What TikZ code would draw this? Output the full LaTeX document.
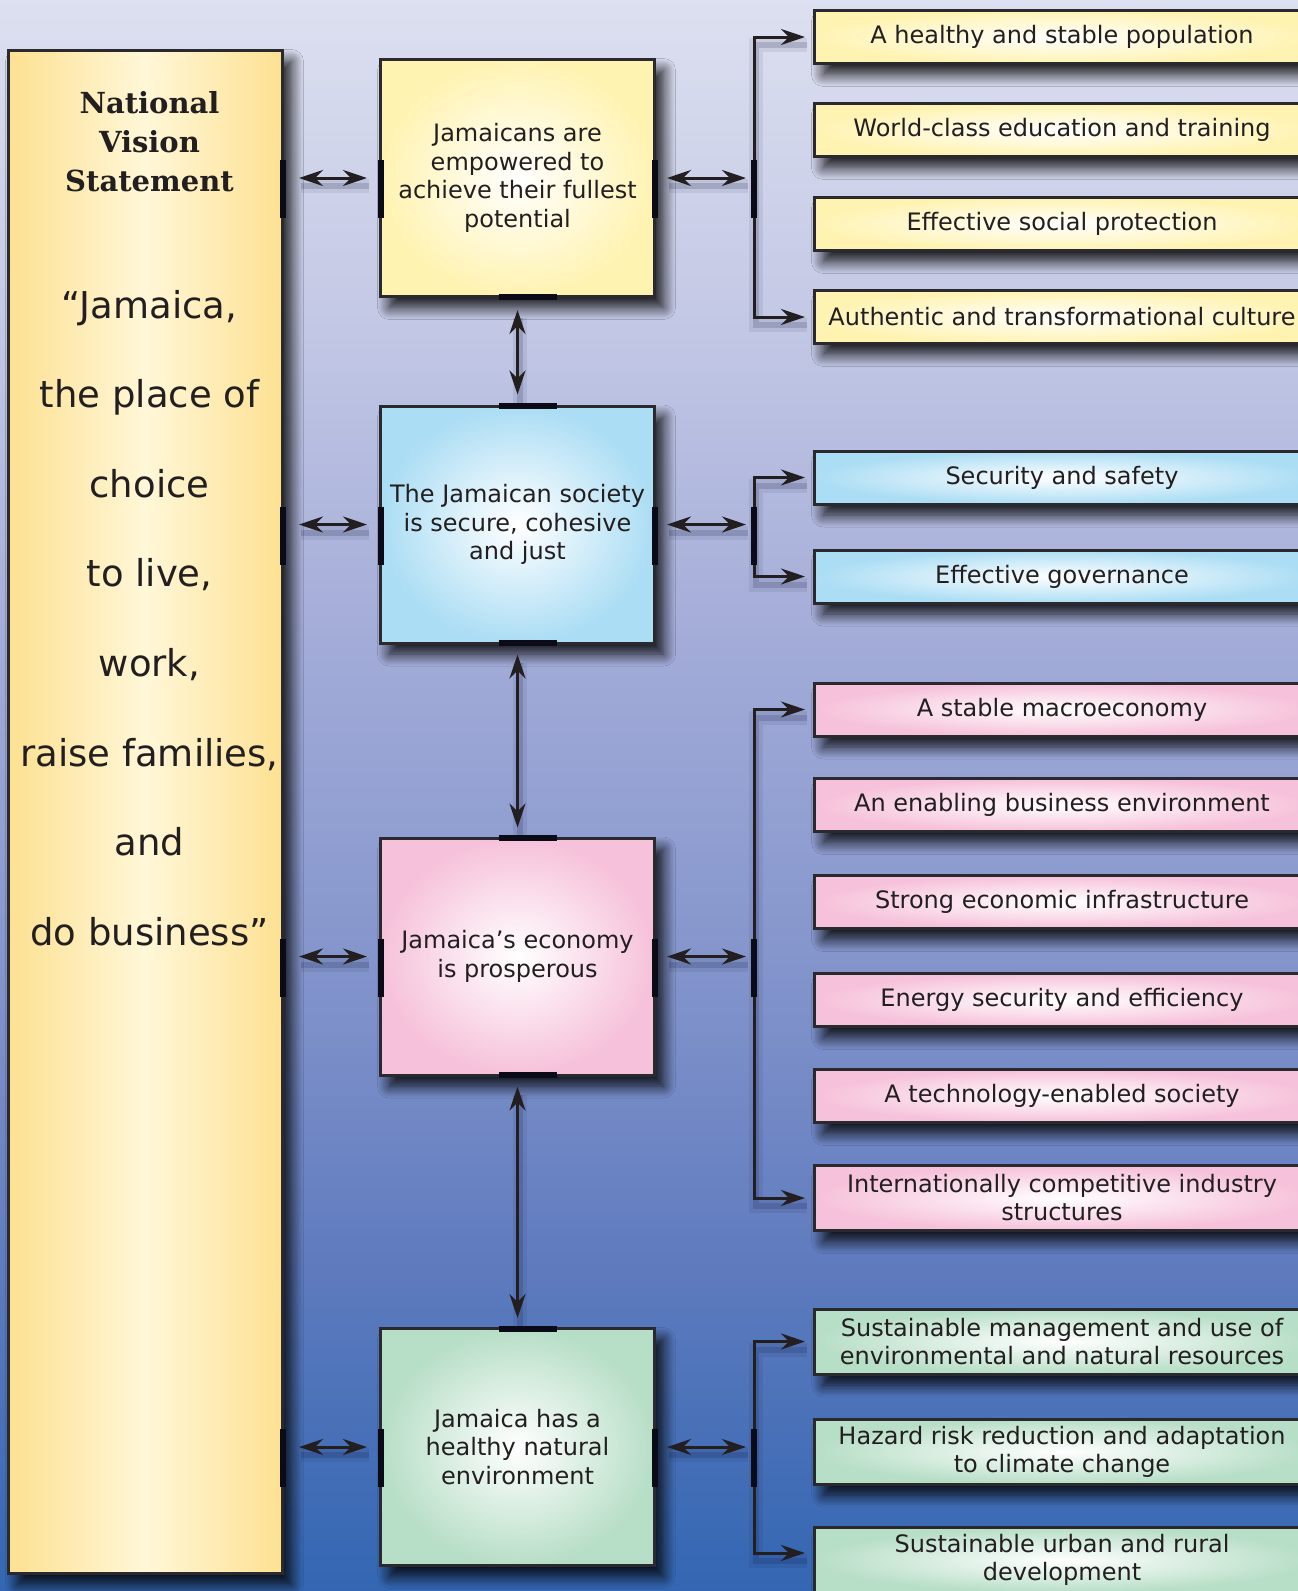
\documentclass[tikz,border=0pt]{standalone}
\usepackage{fontspec}
\setmainfont{DejaVu Sans}
\newfontfamily\headfont{DejaVu Serif}
\usetikzlibrary{arrows.meta,shadows.blur}

\definecolor{ink}{HTML}{231F20}
\definecolor{edge}{HTML}{2A2A2E}
\definecolor{tabc}{HTML}{0B0B18}
\definecolor{bg0}{HTML}{DDE0F0}
\definecolor{bg1}{HTML}{C3C8E5}
\definecolor{bg2}{HTML}{A3ACD8}
\definecolor{bg3}{HTML}{8495CC}
\definecolor{bg4}{HTML}{627DBF}
\definecolor{bg5}{HTML}{3366B2}
\definecolor{goldE}{HTML}{FDE192}
\definecolor{goldC}{HTML}{FFF7D8}
\definecolor{yelO}{HTML}{FFF3B2}
\definecolor{bluO}{HTML}{ABDDF4}
\definecolor{pnkO}{HTML}{F6C1DA}
\definecolor{grnO}{HTML}{B7DEC6}
\definecolor{shd}{HTML}{10163A}

\tikzset{
  Hd/.tip={Stealth[length=24pt,width=16pt,inset=8pt]},
  panel/.style={draw=edge, line width=3pt, inner sep=0pt, align=center, text=ink,
    blur shadow={shadow xshift=9pt, shadow yshift=-11pt, shadow blur radius=12pt,
      shadow blur steps=16, shadow opacity=90}},
  leftbox/.style={panel, left color=goldE, right color=goldE, middle color=goldC,
    minimum width=274pt, minimum height=1523pt},
  midbox/.style={panel, inner color=white, minimum width=274pt, minimum height=237pt,
    font=\fontsize{24}{28.5}\selectfont},
  rbox/.style={panel, inner color=white, minimum width=495pt, minimum height=53pt,
    font=\fontsize{24}{28}\selectfont},
  rbox2/.style={rbox, minimum height=65pt},
  softshadow/.style={
    preaction={draw=shd, arrows=-, opacity=0.08, line width=14pt,
      transform canvas={xshift=2pt, yshift=-8pt}},
    preaction={draw=shd, arrows=-, opacity=0.16, line width=6pt,
      transform canvas={xshift=2pt, yshift=-8pt}}},
  conn/.style={softshadow, draw=ink, line width=3pt, Hd-Hd},
  feed/.style={softshadow, draw=ink, line width=3pt, -Hd, shorten >=8pt},
  tab/.style={draw=tabc, line width=6pt},
  quote/.style={anchor=base, text=ink, font=\fontsize{37}{44}\selectfont},
  head/.style={anchor=base, text=ink, font=\headfont\bfseries\fontsize{29}{34}\selectfont}
}

\begin{document}
\begin{tikzpicture}[x=1pt,y=-1pt]
\useasboundingbox (0,0) rectangle (1298,1591);
\clip (0,0) rectangle (1298,1591);

% background wash, light lavender at the top to deep blue at the bottom
\shade[top color=bg0, bottom color=bg1] (0,-1) rectangle (1298,321);
\shade[top color=bg1, bottom color=bg2] (0,320) rectangle (1298,641);
\shade[top color=bg2, bottom color=bg3] (0,640) rectangle (1298,961);
\shade[top color=bg3, bottom color=bg4] (0,960) rectangle (1298,1241);
\shade[top color=bg4, bottom color=bg5] (0,1240) rectangle (1298,1592);

% vision statement column
\node[leftbox] (L) at (145.5,812) {};
\node[head] (h1) at (149.5,113) {National};
\node[head] (h2) at (149.5,152) {Vision};
\node[head] (h3) at (149.5,191) {Statement};
\node[quote] (q1) at (149.5,318) {“Jamaica,};
\node[quote] (q2) at (149.5,407) {the place of};
\node[quote] (q3) at (149.5,497) {choice};
\node[quote] (q4) at (149.5,586) {to live,};
\node[quote] (q5) at (149.5,676) {work,};
\node[quote] (q6) at (149.5,766) {raise families,};
\node[quote] (q7) at (149.5,855) {and};
\node[quote] (q8) at (149.5,945) {do business”};

% the four national goals
\node[midbox, outer color=yelO] (m1) at (517.5,178) {Jamaicans are\\empowered to\\achieve their fullest\\potential};
\node[midbox, outer color=bluO] (m2) at (517.5,524.5) {The Jamaican society\\is secure, cohesive\\and just};
\node[midbox, outer color=pnkO] (m3) at (517.5,956.5) {Jamaica’s economy\\is prosperous};
\node[midbox, outer color=grnO] (m4) at (517.5,1447) {Jamaica has a\\healthy natural\\environment};

% national outcomes
\node[rbox, outer color=yelO] (r1) at (1062,37) {A healthy and stable population};
\node[rbox, outer color=yelO] (r2) at (1062,130) {World-class education and training};
\node[rbox, outer color=yelO] (r3) at (1062,224) {Effective social protection};
\node[rbox, outer color=yelO] (r4) at (1062,317) {Authentic and transformational culture};
\node[rbox, outer color=bluO] (r5) at (1062,477.5) {Security and safety};
\node[rbox, outer color=bluO] (r6) at (1062,576.5) {Effective governance};
\node[rbox, outer color=pnkO] (r7) at (1062,709.5) {A stable macroeconomy};
\node[rbox, outer color=pnkO] (r8) at (1062,805) {An enabling business environment};
\node[rbox, outer color=pnkO] (r9) at (1062,902) {Strong economic infrastructure};
\node[rbox, outer color=pnkO] (r10) at (1062,1000) {Energy security and efficiency};
\node[rbox, outer color=pnkO] (r11) at (1062,1096) {A technology-enabled society};
\node[rbox2, outer color=pnkO] (r12) at (1062,1198) {Internationally competitive industry\\structures};
\node[rbox2, outer color=grnO] (r13) at (1062,1341.5) {Sustainable management and use of\\environmental and natural resources};
\node[rbox2, outer color=grnO] (r14) at (1062,1451.5) {Hazard risk reduction and adaptation\\to climate change};
\node[rbox2, outer color=grnO] (r15) at (1062,1560) {Sustainable urban and rural\\development};

% bracket junctions
\coordinate (k1) at (754,178);
\coordinate (k2) at (754,524.5);
\coordinate (k3) at (754,956.5);
\coordinate (k4) at (754,1447);
\coordinate (k4b) at (754,1553);

% column to goals
\foreach \m in {m1,m2,m3,m4}{
  \draw[conn, shorten <=15pt, shorten >=12pt] (\m.west -| L.east) -- (\m.west);
}
% goals to brackets
\foreach \m/\k in {m1/k1,m2/k2,m3/k3,m4/k4}{
  \draw[conn, shorten <=11pt, shorten >=8pt] (\m.east) -- (\k);
}
% goal to goal
\draw[conn, shorten <=12pt, shorten >=10pt] (m1.south) -- (m2.north);
\draw[conn, shorten <=10pt, shorten >=9pt] (m2.south) -- (m3.north);
\draw[conn, shorten <=10pt, shorten >=9pt] (m3.south) -- (m4.north);

% brackets fanning out to the outcomes
\draw[feed] (k1) |- (r1.west);
\draw[feed] (k1) |- (r4.west);
\draw[feed] (k2) |- (r5.west);
\draw[feed] (k2) |- (r6.west);
\draw[feed] (k3) |- (r7.west);
\draw[feed] (k3) |- (r12.west);
\draw[feed] (k4) |- (r13.west);
\draw[feed] (k4) -- (k4b) -- (r15.west |- k4b);

% dark connection tabs on the edges
\foreach \m in {m1,m2,m3,m4}{
  \draw[tab] ([xshift=-1.5pt,yshift=18pt]\m.west -| L.east) -- ([xshift=-1.5pt,yshift=-40pt]\m.west -| L.east);
  \draw[tab] ([xshift=1.5pt,yshift=18pt]\m.west) -- ([xshift=1.5pt,yshift=-40pt]\m.west);
  \draw[tab] ([xshift=-1.5pt,yshift=18pt]\m.east) -- ([xshift=-1.5pt,yshift=-40pt]\m.east);
}
\foreach \k in {k1,k2,k3,k4}{
  \draw[tab] ([yshift=18pt]\k) -- ([yshift=-40pt]\k);
}
\foreach \m in {m1,m2,m3}{
  \draw[tab] ([xshift=-19pt,yshift=1.5pt]\m.south) -- ([xshift=39pt,yshift=1.5pt]\m.south);
}
\foreach \m in {m2,m3,m4}{
  \draw[tab] ([xshift=-19pt,yshift=-1.5pt]\m.north) -- ([xshift=39pt,yshift=-1.5pt]\m.north);
}
\end{tikzpicture}
\end{document}
